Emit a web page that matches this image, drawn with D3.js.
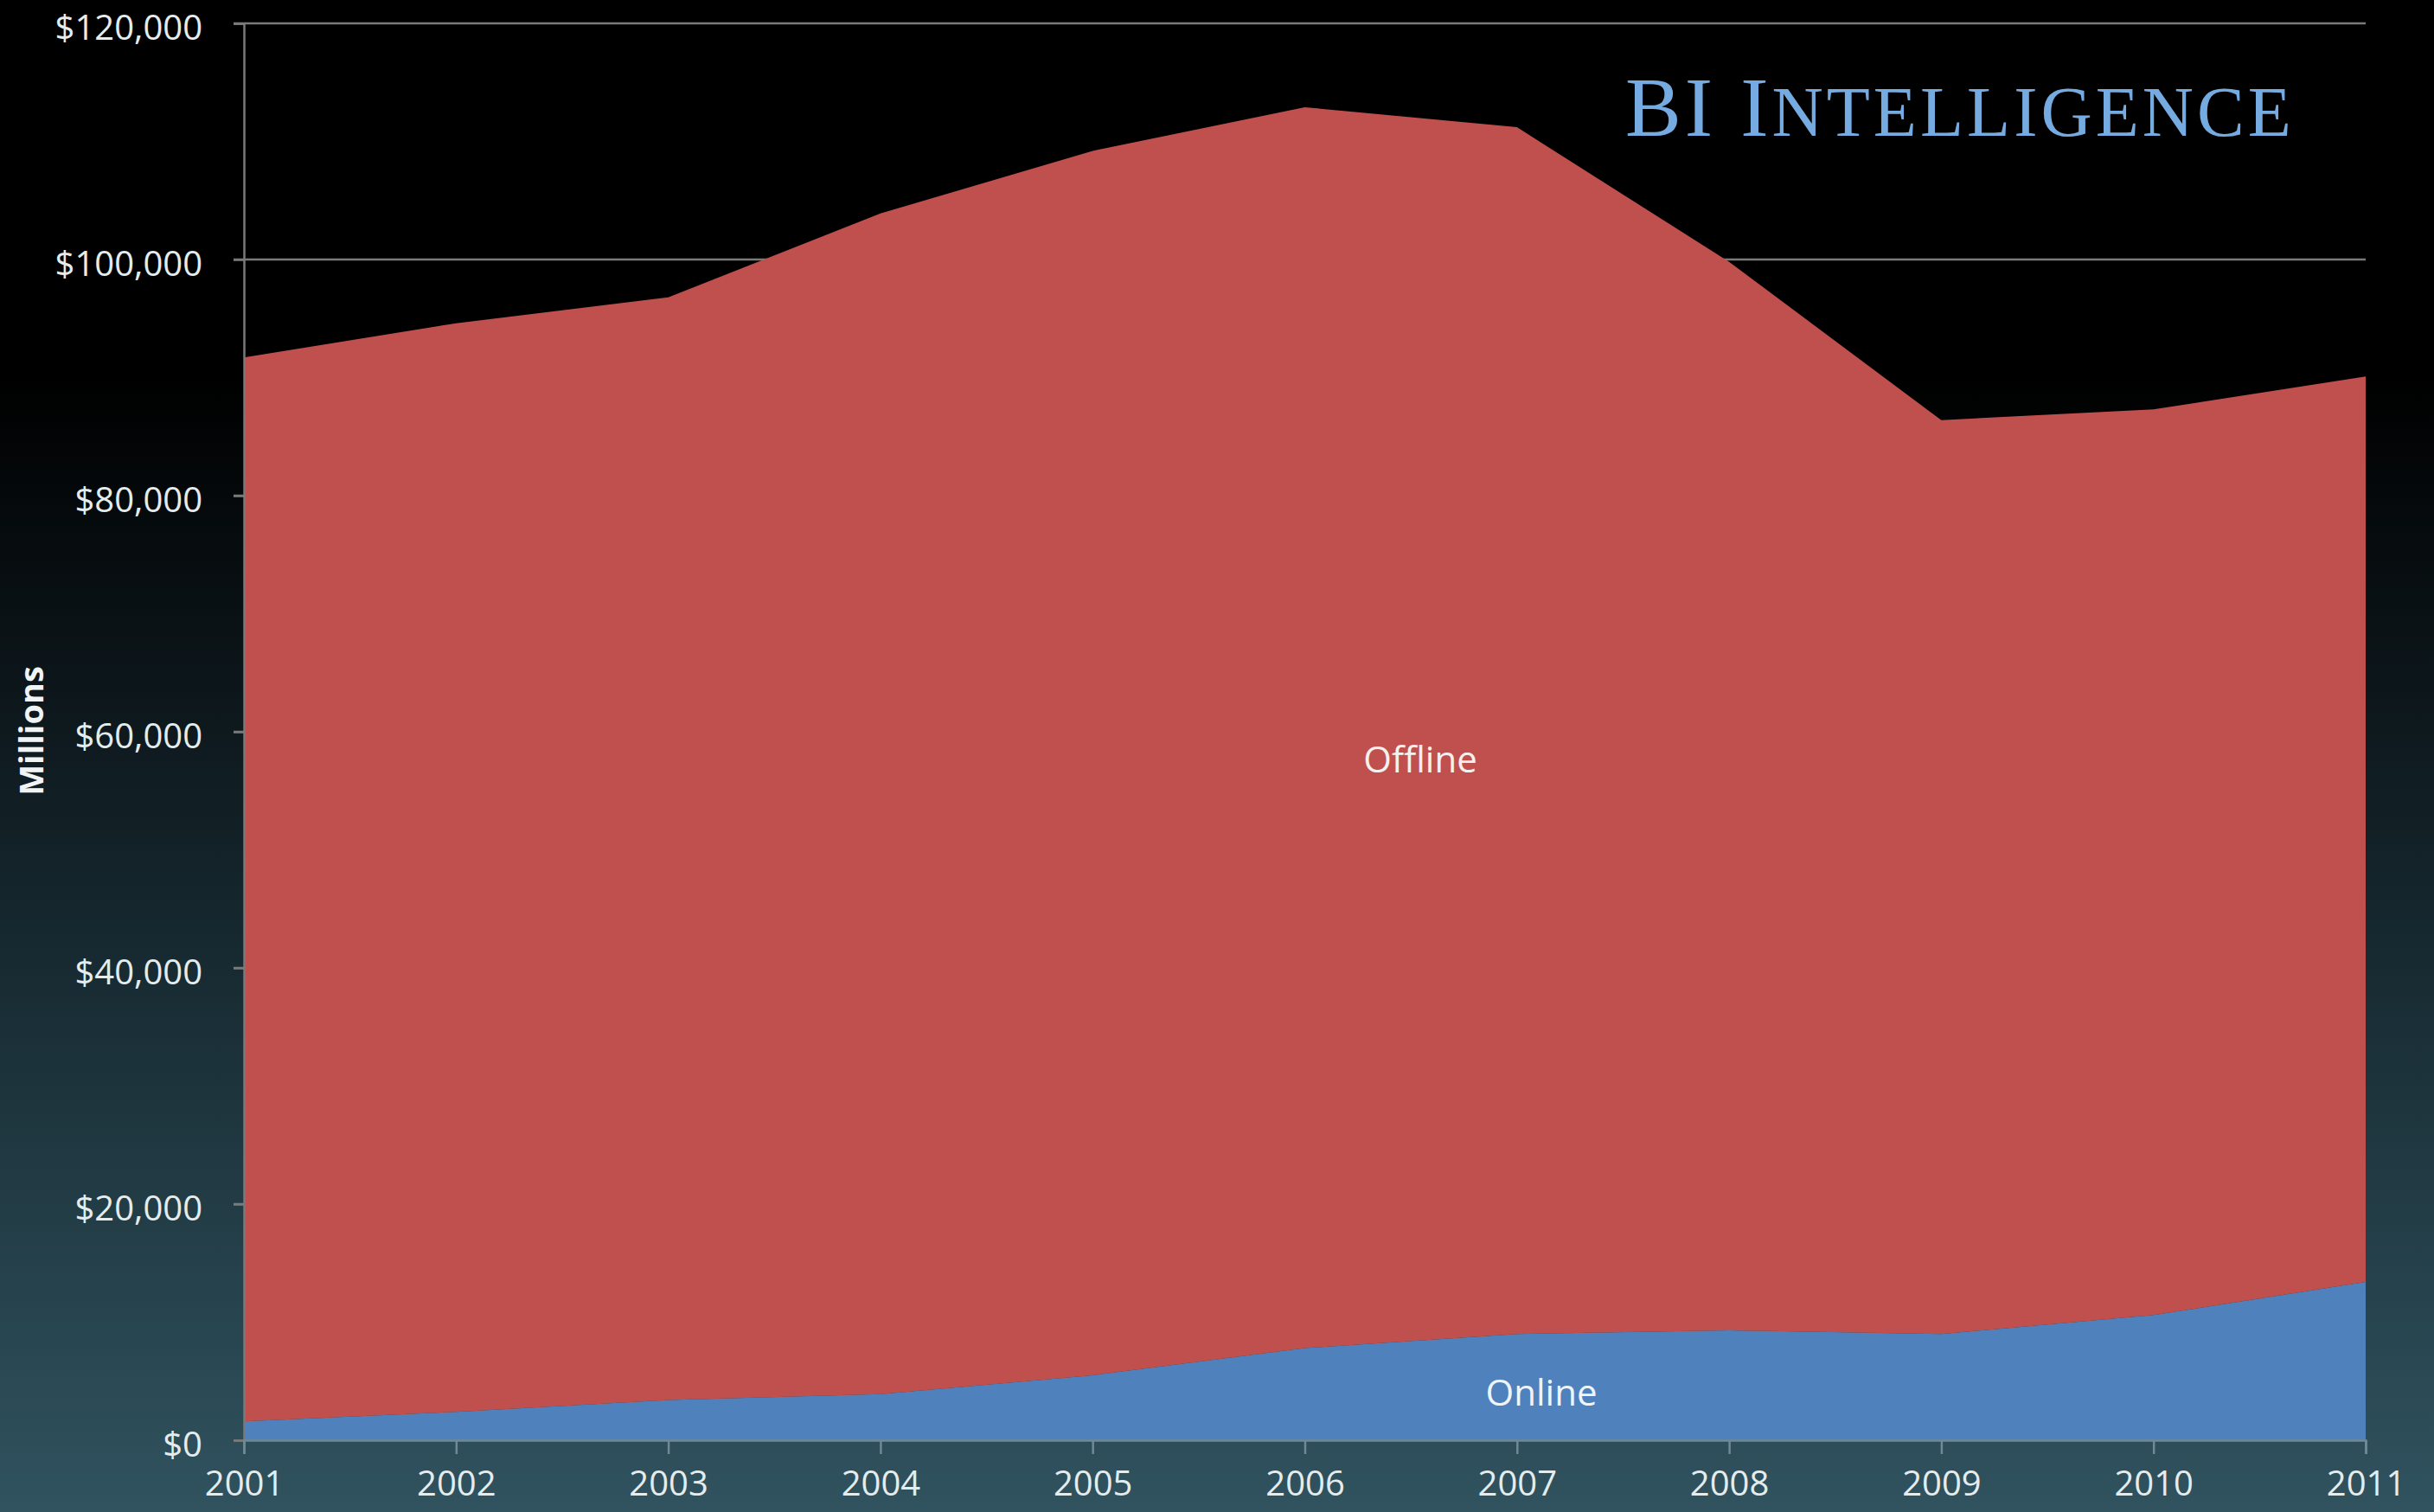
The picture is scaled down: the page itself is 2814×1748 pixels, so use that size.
<!DOCTYPE html>
<html>
<head>
<meta charset="utf-8">
<script src="https://cdn.jsdelivr.net/npm/d3@7"></script>
<style>
  html, body { margin: 0; padding: 0; background: #000; }
  svg { display: block; }
</style>
</head>
<body>
<svg id="chart" width="2814" height="1748"></svg>
<script>
// ---- data (millions of US$) ----
const years   = [2001, 2002, 2003, 2004, 2005, 2006, 2007, 2008, 2009, 2010, 2011];
const online  = [1600, 2400, 3400, 3900, 5500, 7800, 9000, 9300, 9000, 10600, 13400];
const offline = [90100, 92200, 93400, 100000, 103700, 105100, 102200, 90500, 77400, 76700, 76700];
const yTicks  = [0, 20000, 40000, 60000, 80000, 100000, 120000];
const seriesNames = ["Online", "Offline"];

(function () {
const W = 2814, H = 1748;
const plotLeft = 282, plotRight = 2735, plotTop = 27, plotBottom = 1665;

const svg = d3.select("#chart");

// background gradient
const defs = svg.append("defs");
const grad = defs.append("linearGradient").attr("id", "bg")
  .attr("x1", 0).attr("y1", 0).attr("x2", 0).attr("y2", 1);
grad.append("stop").attr("offset", "0%").attr("stop-color", "#000000");
grad.append("stop").attr("offset", "25%").attr("stop-color", "#000000");
grad.append("stop").attr("offset", "60%").attr("stop-color", "#15262d");
grad.append("stop").attr("offset", "100%").attr("stop-color", "#30535f");
svg.append("rect").attr("width", W).attr("height", H).attr("fill", "url(#bg)");

const x = d3.scaleLinear().domain([years[0], years[years.length - 1]]).range([plotLeft, plotRight]);
const y = d3.scaleLinear().domain([0, 120000]).range([plotBottom, plotTop]);

// gridlines
svg.append("g")
  .selectAll("line").data(yTicks.filter(d => d > 0)).join("line")
  .attr("x1", plotLeft - 12).attr("x2", plotRight)
  .attr("y1", d => y(d)).attr("y2", d => y(d))
  .attr("stroke", "#7a7a7a").attr("stroke-width", 2.5);

// stacked data
const table = years.map((yr, i) => ({ year: yr, Online: online[i], Offline: offline[i] }));
const stacked = d3.stack().keys(seriesNames)(table);
const colors = { Online: "#4f81bd", Offline: "#c0504d" };

const area = d3.area()
  .x(d => x(d.data.year))
  .y0(d => y(d[0]))
  .y1(d => y(d[1]))
  .curve(d3.curveLinear);

svg.append("g").selectAll("path").data(stacked).join("path")
  .attr("d", area)
  .attr("fill", d => colors[d.key]);

// y axis
const yAxis = d3.axisLeft(y).tickValues(yTicks)
  .tickFormat(d => "$" + d3.format(",")(d))
  .tickSize(12).tickPadding(36);
const gy = svg.append("g").attr("transform", `translate(${plotLeft},0)`).call(yAxis);
gy.select(".domain").attr("stroke", "#7a7a7a").attr("stroke-width", 2.5);
gy.selectAll(".tick line").attr("stroke", "#7a7a7a").attr("stroke-width", 2.5);
gy.selectAll(".tick text")
  .attr("fill", "#e4ecee")
  .attr("dy", "0.45em")
  .style("font-family", "'Open Sans', sans-serif")
  .style("font-size", "40px");

// x axis
const xAxis = d3.axisBottom(x).tickValues(years).tickFormat(d3.format("d"))
  .tickSize(16).tickPadding(20);
const gx = svg.append("g").attr("transform", `translate(0,${plotBottom})`).call(xAxis);
gx.select(".domain").attr("stroke", "#6f8a94").attr("stroke-width", 2.5);
gx.selectAll(".tick line").attr("stroke", "#6f8a94").attr("stroke-width", 2.5);
gx.selectAll(".tick text")
  .attr("fill", "#e4ecee")
  .style("font-family", "'Open Sans', sans-serif")
  .style("font-size", "40px");

// axis title
svg.append("text")
  .attr("transform", `translate(50,845) rotate(-90)`)
  .attr("text-anchor", "middle")
  .attr("fill", "#f0f4f5")
  .style("font-family", "'Open Sans', sans-serif")
  .style("font-weight", "700")
  .style("font-size", "38px")
  .text("Millions");

// series labels
svg.append("text")
  .attr("x", 1642).attr("y", 893)
  .attr("text-anchor", "middle")
  .attr("fill", "#f4f0f0")
  .style("font-family", "'Open Sans', sans-serif")
  .style("font-size", "42px")
  .text("Offline");
svg.append("text")
  .attr("x", 1782).attr("y", 1625)
  .attr("text-anchor", "middle")
  .attr("fill", "#f0f4f8")
  .style("font-family", "'Open Sans', sans-serif")
  .style("font-size", "42px")
  .text("Online");

// brand title
const brand = svg.append("text")
  .attr("x", 1879).attr("y", 157)
  .attr("fill", "#75abe0")
  .style("font-family", "'Liberation Serif', serif")
  .style("letter-spacing", "4px");
brand.append("tspan").style("font-size", "97px").text("BI I");
brand.append("tspan").style("font-size", "82px").text("NTELLIGENCE");
})();
</script>
</body>
</html>
